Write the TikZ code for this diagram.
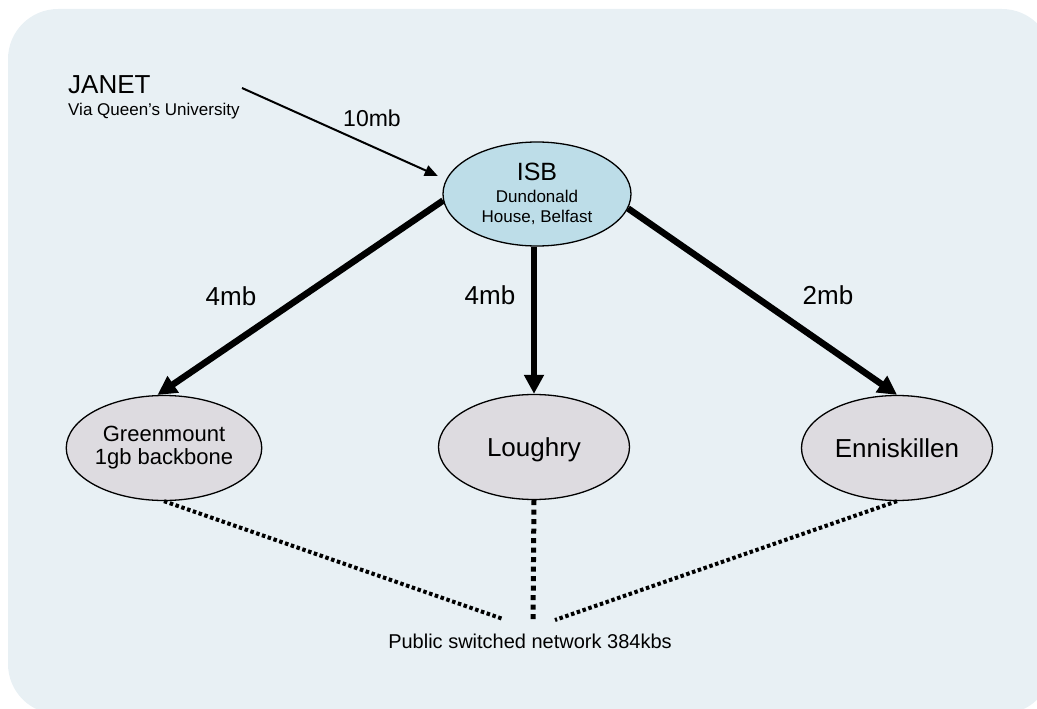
\documentclass[tikz,border=0pt]{standalone}
\usepackage{fontspec}
\setmainfont{Liberation Sans}
\usetikzlibrary{shapes.geometric,arrows.meta}

\definecolor{panelbg}{HTML}{E8F0F4}
\definecolor{hubfill}{HTML}{BDDDE8}
\definecolor{sitefill}{HTML}{DDDBE0}

% font size and line distance, both in pt
\newcommand{\fs}[2]{\fontsize{#1pt}{#2pt}\selectfont}

\tikzset{
  hub/.style={ellipse, draw=black, line width=1.3pt, fill=hubfill,
    minimum width=188pt, minimum height=104pt, inner sep=0pt, align=center},
  site/.style={ellipse, draw=black, line width=1.3pt, fill=sitefill,
    minimum width=191pt, minimum height=105pt, inner sep=0pt, align=center},
  link/.style={line width=6.5pt, -{Triangle[length=19pt,width=19pt]}},
  uplink/.style={line width=2pt, -{Triangle[length=13pt,width=11pt]}},
  pstn/.style={line width=4pt, dash pattern=on 3.5pt off 2.6pt},
  pstnmid/.style={line width=5pt, dash pattern=on 5pt off 4.5pt},
  rate/.style={inner sep=0pt, font=\fs{26}{30}},
}

\begin{document}
\begin{tikzpicture}[x=1pt, y=-1pt]
  \useasboundingbox (0,0) rectangle (1037,709);
  % rounded background panel
  \fill[panelbg, rounded corners=50pt] (8,9) rectangle (1052,714);

  % sites
  \node[hub, font=\fs{17}{20}] (isb) at (537,194)
    {{\fs{25}{20}ISB}\\[2.5pt]Dundonald\\House, Belfast};
  \node[site, font=\fs{22}{23}] (green) at (164,448) {Greenmount\\1gb backbone};
  \node[site, font=\fs{26}{30}, text depth=0pt] (lough) at (534,447) {Loughry};
  \node[site, font=\fs{26}{30}] (ennis) at (897,448) {Enniskillen};

  % external connection
  \node[anchor=north west, inner sep=0pt, align=left, font=\fs{17}{20}] (janet) at (68,75)
    {{\fs{26}{20}JANET}\\[2.5pt]Via Queen’s University};
  \coordinate (jsrc) at (242,88);
  \draw[uplink, shorten >=9pt] (jsrc) -- (isb.171);
  \node[rate, font=\fs{23}{26}] (r10) at (372,118) {10mb};

  % backbone links
  \draw[link] (isb.184) -- (green.97);
  \draw[link] (lough.north |- isb.south) -- (lough.north);
  \draw[link] (isb.-9) -- (ennis.north);
  \node[rate] (r4a) at (231,296) {4mb};
  \node[rate] (r4b) at (490,295) {4mb};
  \node[rate] (r2)  at (828,295) {2mb};

  % public switched network fallback
  \node[inner sep=0pt, font=\fs{20}{23}] (pub) at (530,641) {Public switched network 384kbs};
  \coordinate (pl) at (503,619);
  \coordinate (pm) at (533,621);
  \coordinate (pr) at (555,620);
  \draw[pstn] (green.south) -- (pl);
  \draw[pstnmid] (lough.south) -- (pm);
  \draw[pstn] (ennis.south) -- (pr);
\end{tikzpicture}
\end{document}
